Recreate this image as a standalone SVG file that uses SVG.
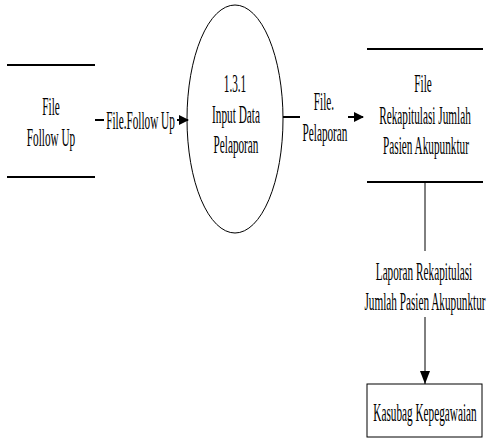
<svg xmlns="http://www.w3.org/2000/svg" width="489" height="439" viewBox="0 0 489 439">
  <style>
    text { font-family: "Liberation Serif", "Times New Roman", serif; font-size: 25px; fill: #000; text-anchor: middle; }
    .store { stroke: #000; stroke-width: 2; }
    .shape { fill: #fff; stroke: #000; stroke-width: 1; }
    .flow { stroke: #000; fill: none; }
  </style>
  <defs>
    <marker id="arrow" markerWidth="10" markerHeight="10" refX="9" refY="5" orient="auto" markerUnits="userSpaceOnUse">
      <path d="M0,0 L10,5 L0,10 Z" fill="#000"/>
    </marker>
    <marker id="arrowDown" markerWidth="14" markerHeight="14" refX="13" refY="7" orient="auto" markerUnits="userSpaceOnUse">
      <path d="M0,2 L13,7 L0,12 Z" fill="#000"/>
    </marker>
  </defs>

  <!-- data store: File Follow Up -->
  <g id="store-follow-up">
    <line class="store" x1="7" y1="65" x2="95" y2="65"/>
    <line class="store" x1="7" y1="177" x2="95" y2="177"/>
    <text transform="translate(51,115) scale(0.45,1)">File</text>
    <text transform="translate(51,146) scale(0.45,1)">Follow Up</text>
  </g>

  <!-- process 1.3.1 -->
  <g id="process-input-data">
    <ellipse class="shape" cx="235" cy="119" rx="48" ry="114"/>
    <text transform="translate(235,92) scale(0.45,1)">1.3.1</text>
    <text transform="translate(236,123) scale(0.45,1)">Input Data</text>
    <text transform="translate(236,153) scale(0.45,1)">Pelaporan</text>
  </g>

  <!-- data store: File Rekapitulasi -->
  <g id="store-rekapitulasi">
    <line class="store" x1="367" y1="49" x2="483" y2="49"/>
    <line class="store" x1="367" y1="182" x2="483" y2="182"/>
    <text transform="translate(423,92) scale(0.45,1)">File</text>
    <text transform="translate(425,124) scale(0.45,1)">Rekapitulasi Jumlah</text>
    <text transform="translate(426,154) scale(0.45,1)">Pasien Akupunktur</text>
  </g>

  <!-- external entity -->
  <g id="entity-kasubag">
    <rect class="shape" x="367" y="384" width="115" height="53"/>
    <text transform="translate(425,421) scale(0.45,1)">Kasubag Kepegawaian</text>
  </g>

  <!-- data flows -->
  <g id="connectors">
    <line class="flow" stroke-width="2" x1="95" y1="120" x2="104" y2="120"/>
    <line class="flow" stroke-width="2" x1="177" y1="120" x2="188" y2="120" marker-end="url(#arrow)"/>
    <text transform="translate(140.5,129) scale(0.45,1)">File.Follow Up</text>

    <line class="flow" stroke-width="2" x1="283" y1="117" x2="300" y2="117"/>
    <line class="flow" stroke-width="2" x1="348" y1="117" x2="363" y2="117" marker-end="url(#arrow)"/>
    <text transform="translate(324,110) scale(0.45,1)">File.</text>
    <text transform="translate(325,141) scale(0.45,1)">Pelaporan</text>

    <line class="flow" stroke-width="1" x1="425" y1="182" x2="425" y2="251"/>
    <line class="flow" stroke-width="1" x1="425" y1="317" x2="425" y2="384" marker-end="url(#arrowDown)"/>
    <text transform="translate(424,280) scale(0.45,1)">Laporan Rekapitulasi</text>
    <text transform="translate(425,310) scale(0.45,1)">Jumlah Pasien Akupunktur</text>
  </g>
</svg>
